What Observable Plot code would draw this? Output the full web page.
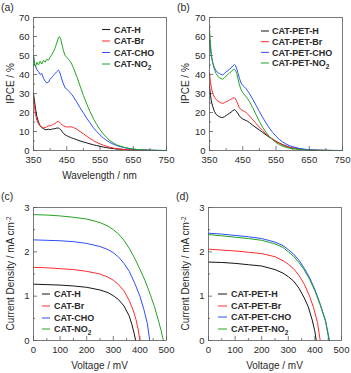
<!DOCTYPE html>
<html>
<head>
<meta charset="utf-8">
<script src="https://cdn.jsdelivr.net/npm/d3@7"></script>
<script src="https://cdn.jsdelivr.net/npm/@observablehq/plot@0.6"></script>
<style>
  html, body { margin: 0; padding: 0; background: #fff; }
  #c { position: relative; width: 351px; height: 373px; overflow: hidden; }
  #c svg { position: absolute; left: 0; top: 0; }
</style>
</head>
<body>
<div id="c"></div>
<script>
// ---------- DATA ----------
const seriesKeys = ["H", "Br", "CHO", "NO2"];
const seriesColors = ["#151515", "#ff2b2b", "#2d4fff", "#23a323"];

// Panel (a) & (b): IPCE vs wavelength
const wavelength = [350,353,356,360,365,370,375,380,385,390,395,400,405,410,415,420,425,428,432,436,440,445,450,455,460,465,470,480,490,500,510,520,530,540,550,560,570,580,590,600,620,640,660,680,700,725,750];

const ipceCatH   = [30,26,22,18,15,13,12,11.5,11,11, 11.2,11,11.2,11.4,11.5,11.8,11.8,11.5,11,10, 9,8.3,7.8,7.3,7,6.6,6.3,5.7,5,4.5, 4,3.5,3,2.6,2.2,1.8,1.5,1.2,1,0.8, 0.5,0.3,0.2,0.1,0.05,0,0];
const ipceCatBr  = [27,23,19,16,14,13,12.3,12,12,12.5, 13,13,13.3,13.8,14.3,15,15.3,15,14.2,13.5, 13,12.6,12.4,12.4,12.5,12.4,12.2,11.2,10,8.8, 7.5,6.3,5.2,4.3,3.5,2.8,2.2,1.7,1.3,1, 0.6,0.3,0.2,0.1,0.05,0,0];
const ipceCatCHO = [50,45,44.5,42.5,41.5,40,40.5,38,36.5,35.5, 36,37.5,38.5,39.5,40.5,41.5,42.3,41.5,39.5,37, 35,33,32.3,31.5,30.5,29.5,28.3,25.5,22.5,19.8, 17,14.5,12,10,8.2,6.6,5.3,4.2,3.3,2.6, 1.6,0.9,0.5,0.3,0.15,0.05,0];
const ipceCatNO2 = [50,46,44,46.5,45,47,45.5,47.5,46.5,48, 47.5,49,50.5,52,54,56.5,59.5,60,58.5,55.5, 52.5,50,49,48,47,45.5,43.5,39,34,29, 24.5,20.5,16.8,13.7,11,8.7,6.8,5.2,4,3, 1.8,1,0.6,0.3,0.15,0.05,0];

const ipcePetH   = [34,29,25.5,23,20.5,19,18.3,17.8,17.4,17.4, 17.8,18.4,19,19.6,20.2,21,21.5,21.2,20.3,19.3, 18.2,17.2,16.6,16.2,15.8,15.3,14.7,13.3,12,10.8, 9.5,8.2,7,5.9,4.8,3.9,3.1,2.4,1.8,1.4, 0.8,0.4,0.2,0.1,0.05,0,0];
const ipcePetBr  = [41,36,32.5,30,28,26.8,26,25.5,25,24.8, 25.2,25.6,26,26.5,27,27.6,27.8,27.2,25.8,24, 22.5,21.5,21,20.6,20,19.2,18.2,16.2,14.2,12.3, 10.5,8.8,7.3,6,4.8,3.8,2.9,2.2,1.7,1.3, 0.7,0.4,0.2,0.1,0.05,0,0];
const ipcePetCHO = [58,53,49,46,43.5,42,41,40.5,40,39.8, 40.5,41.5,42,42.8,43.5,44.5,45.3,44.8,43,40.5, 38,35.5,34.2,33.5,32.5,31.3,30,27,23.8,20.5, 17.4,14.5,11.8,9.5,7.5,5.8,4.5,3.4,2.6,2, 1.1,0.6,0.3,0.15,0.08,0.03,0];
const ipcePetNO2 = [64,56,50,46,42.5,40.5,39,38.3,37.8,37.5, 38.3,39.2,40,40.8,41.5,42.3,42.8,42.2,40.5,37.5, 34.5,32,30.5,29.3,28.3,27.2,25.8,22.5,18.8,15.3, 12.2,9.6,7.4,5.6,4.2,3.1,2.3,1.7,1.2,0.9, 0.5,0.25,0.12,0.06,0.03,0,0];

// Panel (c): J-V curves CAT
const vCatH   = [0,50,100,150,200,250,280,300,320,340,360,370,378,384];
const jCatH   = [1.27,1.26,1.25,1.23,1.20,1.14,1.08,1.01,0.92,0.78,0.55,0.36,0.17,0];
const vCatBr  = [0,50,100,150,200,250,280,300,320,340,360,375,385,393,400];
const jCatBr  = [1.65,1.64,1.62,1.60,1.56,1.50,1.43,1.36,1.26,1.12,0.90,0.68,0.48,0.26,0];
const vCatCHO = [0,50,100,150,200,250,280,300,320,340,360,380,400,415,428,437];
const jCatCHO = [2.27,2.26,2.25,2.23,2.19,2.12,2.05,1.98,1.88,1.74,1.56,1.30,1.00,0.70,0.38,0];
const vCatNO2 = [0,50,100,150,200,250,280,300,320,340,360,380,400,420,440,455,470,480,488];
const jCatNO2 = [2.84,2.83,2.81,2.78,2.74,2.66,2.58,2.50,2.40,2.26,2.08,1.86,1.61,1.34,1.02,0.76,0.44,0.22,0];

// Panel (d): J-V curves CAT-PET
const vPetH   = [0,50,100,150,200,250,280,300,320,340,360,375,390,400,405];
const jPetH   = [1.77,1.76,1.74,1.71,1.68,1.60,1.52,1.44,1.34,1.18,0.96,0.76,0.46,0.20,0];
const vPetBr  = [0,50,100,150,200,250,280,300,320,340,360,380,395,410,420];
const jPetBr  = [2.06,2.04,2.02,1.99,1.96,1.89,1.80,1.72,1.62,1.47,1.27,1.00,0.74,0.40,0];
const vPetCHO = [0,50,100,150,200,250,280,300,320,340,360,380,400,420,440,455];
const jPetCHO = [2.42,2.40,2.37,2.34,2.30,2.22,2.14,2.05,1.95,1.81,1.63,1.42,1.15,0.82,0.45,0];
const vPetNO2 = [0,50,100,150,200,250,280,300,320,340,360,380,400,420,440,453];
const jPetNO2 = [2.39,2.36,2.33,2.30,2.26,2.18,2.10,2.00,1.90,1.76,1.59,1.38,1.12,0.80,0.43,0];

// Ticks
const wlTicks = [350,450,550,650,750];
const wlMinor = [400,500,600,700];
const ipceTicks = [0,10,20,30,40,50,60,70];
const ipceMinor = [5,15,25,35,45,55,65];
const vTicks = [0,100,200,300,400,500];
const vMinor = [50,150,250,350,450];
const jTicks = [0,1,2,3];
const jMinor = [0.5,1.5,2.5];

const legendCat = ["CAT-H", "CAT-Br", "CAT-CHO", "CAT-NO2"];
const legendPet = ["CAT-PET-H", "CAT-PET-Br", "CAT-PET-CHO", "CAT-PET-NO2"];

// ---------- BUILD ----------
const W = 351, H = 373;
const FONT = "'Liberation Sans', Arial, Helvetica, sans-serif";
const AXC = "#5a5a5a";
const TXT = "#2a2a2a";

function rows(xs, ys, key) { return xs.map((x, i) => ({x, y: ys[i], key})); }

function makePanel(cfg) {
  const [fx0, fy0, fx1, fy1] = cfg.frame;
  const pw = fx1 - fx0, ph = fy1 - fy0;
  const svg = Plot.plot({
    width: W, height: H,
    marginLeft: fx0, marginRight: W - fx1, marginTop: fy0, marginBottom: H - fy1,
    style: {background: "transparent", fontFamily: FONT, fontSize: "9.5px", color: TXT, overflow: "visible"},
    x: {domain: cfg.xDomain},
    y: {domain: cfg.yDomain},
    color: {domain: seriesKeys, range: seriesColors},
    marks: [
      Plot.axisX(cfg.xTicks, {tickSize: 0, tickPadding: 6, label: null, fill: TXT}),
      Plot.axisY(cfg.yTicks, {tickSize: 0, tickPadding: 4, label: null, fill: TXT}),
      Plot.tickX(cfg.xTicks, {insetTop: ph - 4, stroke: AXC, strokeWidth: 0.8}),
      Plot.tickX(cfg.xMinor, {insetTop: ph - 2, stroke: AXC, strokeWidth: 0.8}),
      Plot.tickY(cfg.yTicks, {insetRight: pw - 4, stroke: AXC, strokeWidth: 0.8}),
      Plot.tickY(cfg.yMinor, {insetRight: pw - 2, stroke: AXC, strokeWidth: 0.8}),
      Plot.line(cfg.data, {x: "x", y: "y", z: "key", stroke: "key", strokeWidth: 1}),
      Plot.frame({stroke: AXC, strokeWidth: 0.8})
    ]
  });
  const g = d3.select(svg).append("g").attr("font-family", FONT).attr("fill", TXT)
    .attr("text-anchor", "start");
  // panel letter
  g.append("text").attr("x", cfg.letterPos[0]).attr("y", cfg.letterPos[1])
    .attr("text-anchor", "start").attr("font-size", 10.5).text(cfg.letter);
  // x title
  if (cfg.xTitle) {
    g.append("text").attr("x", (fx0 + fx1) / 2).attr("y", fy1 + 28.5)
      .attr("text-anchor", "middle").attr("font-size", 10).text(cfg.xTitle);
  }
  // y title
  const yt = g.append("text")
    .attr("transform", `translate(${cfg.yTitleX},${(fy0 + fy1) / 2}) rotate(-90)`)
    .attr("text-anchor", "middle").attr("font-size", 10);
  yt.append("tspan").text(cfg.yTitle);
  if (cfg.yTitleSup) {
    yt.append("tspan").attr("dy", -3.5).attr("font-size", 6.5).text(cfg.yTitleSup);
  }
  // legend
  const L = cfg.legend;
  cfg.legendLabels.forEach((lab, i) => {
    const cy = L.rows[i];
    g.append("line").attr("x1", L.sx0).attr("x2", L.sx1).attr("y1", cy).attr("y2", cy)
      .attr("stroke", seriesColors[i]).attr("stroke-width", 1);
    const t = g.append("text").attr("x", L.tx).attr("y", cy + 3.3)
      .attr("text-anchor", "start").attr("font-size", 9).attr("font-weight", "bold");
    if (lab.endsWith("NO2")) {
      t.append("tspan").text(lab.slice(0, -1));
      t.append("tspan").attr("dy", 2.5).attr("font-size", 6.5).text("2");
    } else {
      t.text(lab);
    }
  });
  document.getElementById("c").appendChild(svg);
}

const dataA = [].concat(rows(wavelength, ipceCatH, "H"), rows(wavelength, ipceCatBr, "Br"),
  rows(wavelength, ipceCatCHO, "CHO"), rows(wavelength, ipceCatNO2, "NO2"));
const dataB = [].concat(rows(wavelength, ipcePetH, "H"), rows(wavelength, ipcePetBr, "Br"),
  rows(wavelength, ipcePetCHO, "CHO"), rows(wavelength, ipcePetNO2, "NO2"));
const dataC = [].concat(rows(vCatH, jCatH, "H"), rows(vCatBr, jCatBr, "Br"),
  rows(vCatCHO, jCatCHO, "CHO"), rows(vCatNO2, jCatNO2, "NO2"));
const dataD = [].concat(rows(vPetH, jPetH, "H"), rows(vPetBr, jPetBr, "Br"),
  rows(vPetCHO, jPetCHO, "CHO"), rows(vPetNO2, jPetNO2, "NO2"));

makePanel({
  frame: [33, 17, 166, 150], xDomain: [350, 750], yDomain: [0, 70],
  xTicks: wlTicks, xMinor: wlMinor, yTicks: ipceTicks, yMinor: ipceMinor, data: dataA,
  letter: "(a)", letterPos: [1, 11], xTitle: "Wavelength / nm",
  yTitle: "IPCE / %", yTitleX: 14,
  legendLabels: legendCat, legend: {sx0: 102, sx1: 110, tx: 114, rows: [29.5, 41, 52.5, 64]}
});
makePanel({
  frame: [209, 17, 342, 150], xDomain: [350, 750], yDomain: [0, 70],
  xTicks: wlTicks, xMinor: wlMinor, yTicks: ipceTicks, yMinor: ipceMinor, data: dataB,
  letter: "(b)", letterPos: [177, 11], xTitle: null,
  yTitle: "IPCE / %", yTitleX: 189,
  legendLabels: legendPet, legend: {sx0: 261, sx1: 269, tx: 272, rows: [31, 41.7, 52.4, 63]}
});
makePanel({
  frame: [33, 207, 166, 340], xDomain: [0, 500], yDomain: [0, 3],
  xTicks: vTicks, xMinor: vMinor, yTicks: jTicks, yMinor: jMinor, data: dataC,
  letter: "(c)", letterPos: [1, 200], xTitle: "Voltage / mV",
  yTitle: "Current Density / mA cm", yTitleSup: "-2", yTitleX: 14,
  legendLabels: legendCat, legend: {sx0: 42, sx1: 50, tx: 54, rows: [294, 306, 318, 329]}
});
makePanel({
  frame: [208, 207, 341, 340], xDomain: [0, 500], yDomain: [0, 3],
  xTicks: vTicks, xMinor: vMinor, yTicks: jTicks, yMinor: jMinor, data: dataD,
  letter: "(d)", letterPos: [176, 200], xTitle: "Voltage / mV",
  yTitle: "Current Density / mA cm", yTitleSup: "-2", yTitleX: 189,
  legendLabels: legendPet, legend: {sx0: 218, sx1: 227, tx: 231, rows: [294, 306, 317, 329]}
});
</script>
</body>
</html>
